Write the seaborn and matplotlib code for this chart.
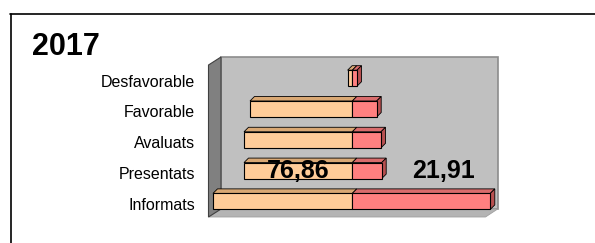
import numpy as np
import pandas as pd
import matplotlib
matplotlib.use("Agg")
import matplotlib.pyplot as plt
import matplotlib.transforms as mtransforms
from matplotlib.patches import Polygon
from matplotlib.lines import Line2D
import seaborn as sns

# Data
categories = ["Desfavorable", "Favorable", "Avaluats", "Presentats", "Informats"]
orange_vals = [4.7, 102.3, 108.3, 108.3, 139.3]
red_vals = [4.7, 24.4, 28.7, 29.4, 138.0]
title = "2017"
pct_labels = ["76,86", "21,91"]

sns.set_theme(style="white")
plt.rcParams["font.family"] = ["Liberation Sans", "DejaVu Sans"]

W, H = 595, 243
fig = plt.figure(figsize=(W / 100, H / 100), dpi=100)


def fx(x):
    return x / W


def fy(y):
    return 1 - y / H


ax = fig.add_axes([fx(221), fy(209), (497.7 - 221) / W, (209 - 57) / H])
ax.set_facecolor("none")

df = pd.DataFrame({
    "cat": categories * 2,
    "val": [-v for v in orange_vals] + red_vals,
    "part": ["a"] * len(categories) + ["b"] * len(categories),
})
sns.barplot(data=df, x="val", y="cat", hue="part", dodge=False,
            palette={"a": "#FFCC99", "b": "#FF8080"}, saturation=1, width=0.52,
            edgecolor="black", linewidth=0.8, legend=False, ax=ax,
            clip_on=False, zorder=3)

ax.set_xlim(-131.3, 145.4)
ax.set_ylim(4.247, -0.688)
for s in ax.spines.values():
    s.set_visible(False)
ax.set_xticks([])
ax.set_xlabel("")
ax.set_ylabel("")
ax.tick_params(axis="y", length=0, pad=18.5, labelsize=11.5, colors="black")
shift = mtransforms.ScaledTranslation(0, -0.025, fig.dpi_scale_trans)
for lbl in ax.get_yticklabels():
    lbl.set_transform(lbl.get_transform() + shift)

# walls (pixel coords of the reference)
def poly(pts, **kw):
    p = Polygon([(fx(x), fy(y)) for x, y in pts], closed=True,
                transform=fig.transFigure, clip_on=False, **kw)
    ax.add_patch(p)

poly([(221, 57), (497.7, 57), (497.7, 209), (221, 209)],
     facecolor="#C0C0C0", edgecolor="#8C8C8C", lw=1.2, zorder=0.5)
poly([(208.5, 65), (221, 57), (221, 209), (208.5, 217)],
     facecolor="#808080", edgecolor="#404040", lw=0.8, zorder=0.6)
poly([(221, 209), (497.7, 209), (485.5, 217), (208.5, 217)],
     facecolor="#B4B4B4", edgecolor="#A0A0A0", lw=0.6, zorder=0.55)

# 3d faces for bars
fig.canvas.draw()
inv = fig.transFigure.inverted()
dx, dy = 4.5, 4.5
n = len(categories)
for i, bar in enumerate(ax.patches[:2 * n]):
    if not hasattr(bar, "get_width"):
        continue
    (x0, y0), (x1, y1) = ax.transData.transform(
        [(bar.get_x(), bar.get_y() + bar.get_height()), (bar.get_x() + bar.get_width(), bar.get_y())])
    xa, xb = min(x0, x1), max(x0, x1)
    ya, yb = min(y0, y1), max(y0, y1)
    is_red = i >= n
    top_c = "#D9A874" if not is_red else "#D96C6C"
    top = [(xa, yb), (xb, yb), (xb + dx, yb + dy), (xa + dx, yb + dy)]
    ax.add_patch(Polygon(inv.transform(top), closed=True, transform=fig.transFigure,
                         facecolor=top_c, edgecolor="black", lw=0.6, zorder=2.5, clip_on=False))
    if is_red:
        side = [(xb, ya), (xb, yb), (xb + dx, yb + dy), (xb + dx, ya + dy)]
        ax.add_patch(Polygon(inv.transform(side), closed=True, transform=fig.transFigure,
                             facecolor="#B85050", edgecolor="black", lw=0.6, zorder=2.5, clip_on=False))

# value labels
ax.text(-orange_vals[3] / 2, 3, pct_labels[0], ha="center", va="center",
        fontsize=18, fontweight="bold", color="black", zorder=5)
ax.text(red_vals[3] + 62, 3, pct_labels[1], ha="center", va="center",
        fontsize=18, fontweight="bold", color="black", zorder=5)

fig.text(fx(32), fy(55), title, fontsize=22, fontweight="bold", va="baseline",
         ha="left", color="black")

# outer frame
fig.add_artist(Line2D([fx(10), 1], [fy(14), fy(14)], transform=fig.transFigure, color="black", lw=1.2))
fig.add_artist(Line2D([fx(10.5), fx(10.5)], [fy(14), 0], transform=fig.transFigure, color="black", lw=1.2))

fig.savefig("out.png", dpi=100)
